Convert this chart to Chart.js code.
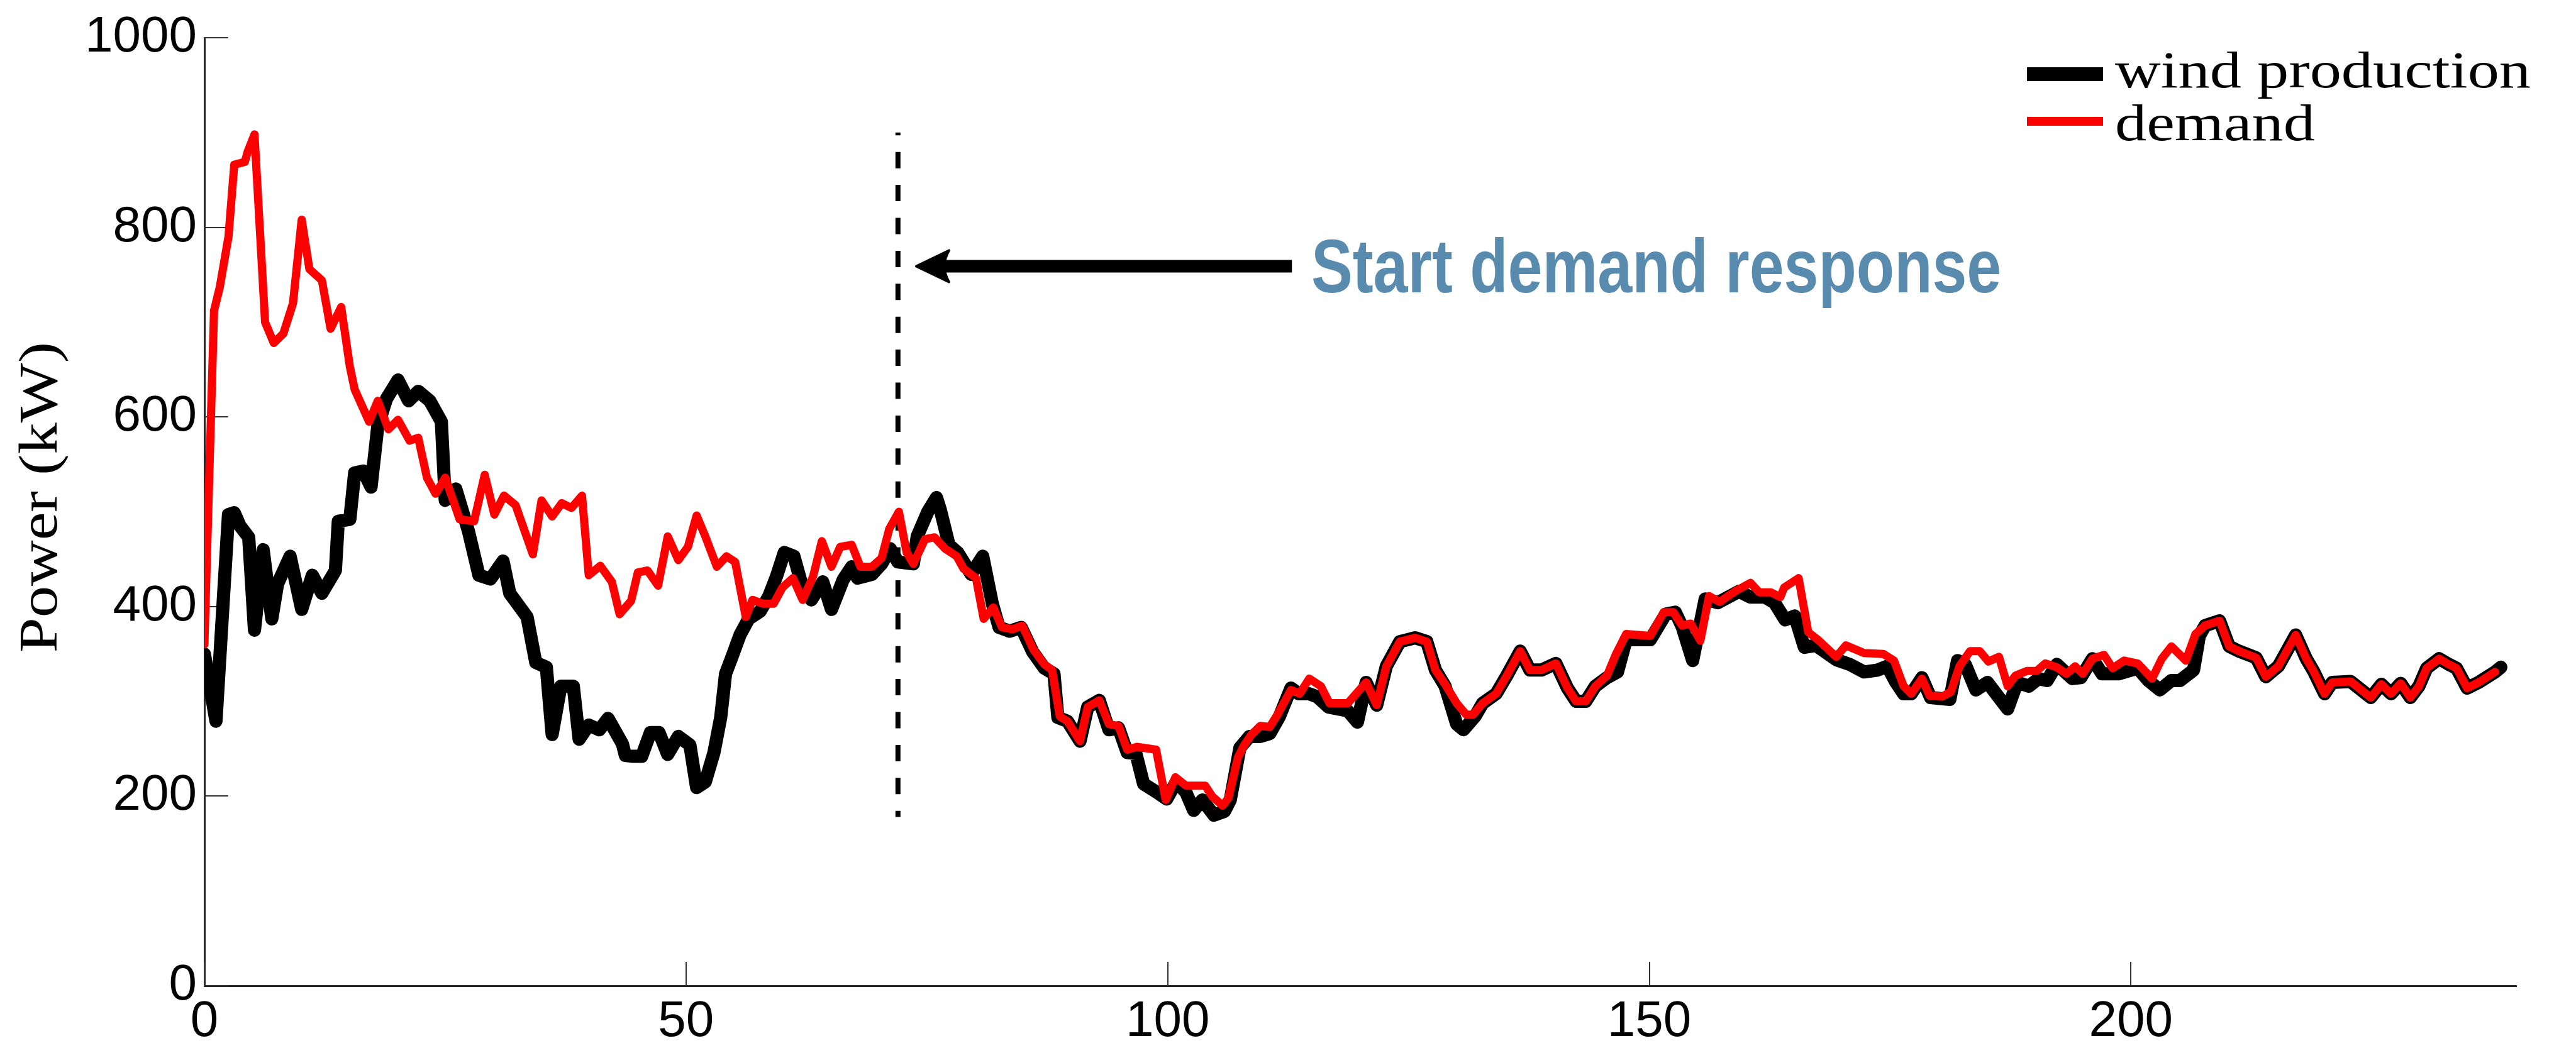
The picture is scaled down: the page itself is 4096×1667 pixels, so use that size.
<!DOCTYPE html>
<html>
<head>
<meta charset="utf-8">
<title>Wind production vs demand</title>
<script src="https://cdn.jsdelivr.net/npm/chart.js@4.4.1/dist/chart.umd.min.js"></script>
<style>
  html, body { margin: 0; padding: 0; background: #fff; }
  canvas { display: block; }
</style>
</head>
<body>
<canvas id="powerChart" width="4096" height="1667"></canvas>
<script>
// readings taken off the figure: time step and power (kW)
const demandX = [
  0, 1, 1.6, 2.5, 3.1, 4.2, 4.5, 5.2, 6.3, 7.2,
  8.2, 9.2, 10.1, 10.9, 12.2, 13.1, 14.2, 15.1, 15.6, 17.1,
  18, 19.1, 20.1, 21.3, 22.2, 23.1, 24, 25, 26.5, 28,
  29.1, 30.1, 31.1, 32.3, 34.1, 35, 36.1, 37.1, 38.1, 39.2,
  39.9, 41.1, 42.3, 43.1, 44.3, 45, 46, 47.1, 48.1, 49.2,
  50.2, 51.1, 52, 53.2, 54.2, 55.1, 56.2, 56.9, 58, 59.1,
  60, 61.1, 62.1, 63.2, 64.1, 65.1, 66, 67.2, 68.1, 69.3,
  70.3, 71.1, 72.1, 72.9, 73.6, 74.8, 75.8, 76.9, 78.1, 78.8,
  80.1, 80.9, 81.9, 82.8, 83.9, 84.9, 86.1, 87.2, 88, 88.8,
  89.6, 90.9, 91.7, 92.9, 93.9, 94.9, 95.8, 96.8, 98.8, 99.8,
  100.8, 101.9, 103.9, 104.6, 105.7, 106.3, 107.3, 107.9, 108.7, 109.6,
  110.6, 111.4, 112.8, 113.7, 114.7, 115.9, 116.8, 118.7, 120.6, 121.7,
  122.7, 124.1, 125.7, 126.9, 127.8, 128.8, 130, 131, 131.7, 132.7,
  134.1, 135.2, 136.6, 137.6, 138.8, 140.3, 141.5, 142.4, 143.4, 144.4,
  145.6, 146.5, 147.6, 150.1, 151.5, 152.5, 153.4, 154.3, 155.3, 156.2,
  157.3, 158.9, 160.5, 161.4, 162.6, 163.6, 164, 165.5, 166.5, 167.5,
  169.4, 170.4, 172.3, 174.3, 175.4, 176.4, 177.2, 178.3, 179.1, 180.4,
  181.3, 182.2, 183.3, 184.3, 185.2, 186.3, 187.2, 188, 189.2, 190.2,
  191.1, 192.3, 193.3, 194.2, 195, 196, 197.2, 198.1, 199.3, 200.7,
  202.2, 203.2, 204.2, 205.7, 206.7, 207.7, 209.2, 210.2, 211.2, 213,
  214, 215.3, 217.1, 218.2, 219, 220.1, 220.9, 222.8, 224.9, 226,
  227, 228, 229, 229.9, 230.7, 232, 233, 233.8, 234.9, 236.1,
  237.8
];
const demandKW = [
  360, 712, 737, 790, 866, 869, 880, 898, 700, 678,
  688, 720, 808, 756, 744, 693, 716, 653, 629, 595,
  617, 587, 597, 575, 578, 536, 519, 536, 492, 490,
  539, 497, 517, 507, 455, 512, 495, 509, 504, 517,
  433, 443, 426, 392, 406, 436, 438, 422, 474, 449,
  463, 496, 474, 442, 453, 447, 389, 407, 403, 403,
  420, 430, 407, 432, 469, 442, 463, 465, 442, 442,
  451, 482, 500, 457, 445, 471, 473, 461, 453, 440,
  430, 387, 399, 378, 376, 380, 354, 339, 333, 284,
  279, 258, 294, 301, 276, 274, 249, 252, 249, 196,
  220, 211, 211, 200, 190, 198, 241, 253, 265, 274,
  273, 286, 312, 308, 324, 316, 298, 298, 320, 296,
  337, 363, 367, 363, 333, 318, 298, 286, 286, 298,
  308, 327, 353, 333, 333, 340, 314, 300, 300, 316,
  327, 349, 371, 369, 394, 394, 380, 382, 364, 411,
  405, 416, 425, 415, 415, 410, 420, 430, 373, 365,
  347, 359, 351, 350, 343, 316, 308, 324, 306, 305,
  310, 337, 353, 353, 342, 347, 316, 327, 332, 332,
  340, 336, 329, 337, 329, 345, 349, 335, 343, 340,
  324, 345, 358, 343, 371, 380, 385, 358, 353, 346,
  326, 337, 370, 345, 331, 308, 320, 321, 304, 318,
  308, 319, 304, 316, 335, 345, 339, 335, 314, 320,
  331
];
const windX = [
  0, 1.2, 2.5, 3.1, 3.7, 4.6, 5.2, 6.1, 7, 7.6,
  8.9, 10.1, 11.2, 12.2, 13.6, 13.9, 15.1, 15.6, 16.5, 17.3,
  18, 18.9, 20.1, 21.2, 22.2, 23.4, 24.6, 25, 26.1, 27.4,
  28.5, 29.7, 31, 31.7, 33.5, 34.4, 35.5, 36.1, 37, 38.3,
  38.9, 39.9, 41, 41.9, 43.4, 43.7, 44.5, 45.4, 46.3, 47.2,
  48.1, 49.2, 50.4, 51.1, 52, 52.9, 53.6, 54.1, 54.7, 55.6,
  56.5, 57.7, 58.6, 59.4, 60.2, 61.2, 62.1, 63, 64.2, 65.1,
  66.3, 67.2, 67.8, 69.3, 70.3, 71.2, 72, 73.6, 74, 75.1,
  76, 76.4, 77.3, 78.2, 79.6, 80.8, 81.8, 82.5, 83.6, 84.8,
  86, 87.2, 88.2, 88.6, 89.6, 90.9, 91.7, 92.9, 93.9, 94.9,
  95.8, 96.7, 97.5, 98.9, 99.9, 100.9, 101.9, 102.7, 103.6, 104.8,
  105.9, 106.5, 107.5, 108.5, 109.6, 110.6, 111.6, 112.8, 113.6, 114.7,
  115.5, 116.7, 118.7, 119.7, 120.6, 121.7, 122.7, 124.1, 125.7, 126.9,
  127.8, 128.8, 130, 130.7, 131.9, 132.7, 134.1, 135.2, 136.6, 137.6,
  138.8, 140.3, 141.5, 142.4, 143.4, 144.4, 145.6, 146.7, 147.6, 150.1,
  151.7, 152.7, 153.4, 154.5, 155.8, 157.1, 159.3, 160.5, 162, 163,
  164.1, 165.1, 166.1, 167.3, 169.4, 170.8, 172.3, 173.7, 174.7, 175.6,
  176.4, 177.2, 178.3, 179.2, 181.2, 182, 182.8, 183.9, 185.1, 186.3,
  187.2, 188.2, 189.4, 190.4, 191.3, 192.3, 193.9, 194.8, 196, 197,
  198.7, 200.7, 201.8, 203, 204.2, 205.1, 206.5, 207.1, 207.7, 209.2,
  210.2, 211.2, 213, 214, 215.3, 217.1, 218.2, 219, 220.1, 220.9,
  222.8, 224.9, 226, 227, 228, 229, 229.9, 230.7, 232, 233,
  233.8, 234.9, 236.1, 237.8, 238.4
];
const windKW = [
  350, 279, 497, 499, 485, 473, 375, 460, 387, 424,
  453, 397, 433, 414, 438, 490, 492, 541, 543, 526,
  590, 619, 639, 617, 627, 617, 595, 512, 524, 480,
  433, 429, 448, 414, 389, 341, 336, 265, 316, 316,
  260, 275, 270, 282, 255, 243, 242, 242, 267, 267,
  244, 263, 254, 209, 215, 246, 283, 329, 345, 370,
  387, 395, 411, 432, 457, 453, 420, 407, 426, 397,
  428, 442, 430, 434, 445, 461, 447, 445, 474, 500,
  515, 502, 465, 457, 434, 453, 403, 378, 374, 378,
  352, 335, 329, 283, 279, 258, 294, 301, 270, 272,
  246, 245, 213, 204, 197, 215, 204, 185, 196, 180,
  184, 196, 251, 263, 263, 266, 284, 314, 308, 308,
  305, 294, 290, 278, 320, 296, 337, 363, 367, 363,
  333, 316, 276, 270, 284, 298, 308, 327, 353, 333,
  333, 340, 314, 300, 300, 316, 325, 331, 365, 365,
  392, 394, 379, 343, 408, 404, 416, 410, 410, 404,
  386, 390, 357, 359, 344, 339, 331, 333, 337, 320,
  308, 308, 325, 304, 302, 343, 339, 312, 320, 304,
  292, 320, 316, 324, 322, 339, 324, 325, 345, 329,
  329, 335, 322, 312, 322, 322, 333, 369, 380, 385,
  358, 353, 346, 326, 337, 370, 345, 331, 308, 320,
  321, 304, 318, 308, 319, 304, 316, 335, 345, 339,
  335, 314, 320, 331, 336
];
const xTickValues = [0, 50, 100, 150, 200];
const yTickValues = [0, 200, 400, 600, 800, 1000];

// annotation: demand response starts at step 72
const responseStep = 72;
const responseSpan = [900, 178];
const arrowTail = 112.9, arrowTip = 73.9, arrowLevel = 759;
const noteAt = [114.9, 731.7];
const noteText = 'Start demand response';

const toPoints = (xs, ys) => xs.map((x, i) => ({ x: x, y: ys[i] }));

// MATLAB style ticks pointing into the plot
const insideTicks = {
    id: 'insideTicks',
    beforeDatasetsDraw(chart) {
        const { ctx, chartArea, scales } = chart;
        ctx.save();
        ctx.strokeStyle = '#333';
        ctx.lineWidth = 2;
        ctx.beginPath();
        xTickValues.forEach(v => {
            const px = Math.round(scales.x.getPixelForValue(v));
            ctx.moveTo(px, chartArea.bottom);
            ctx.lineTo(px, chartArea.bottom - 38);
        });
        yTickValues.forEach(v => {
            const py = Math.round(scales.y.getPixelForValue(v));
            ctx.moveTo(chartArea.left, py);
            ctx.lineTo(chartArea.left + 38, py);
        });
        ctx.stroke();
        ctx.restore();
    }
};

// arrow + blue note
const responseNote = {
    id: 'responseNote',
    afterDatasetsDraw(chart) {
        const { ctx, scales } = chart;
        const y = scales.y.getPixelForValue(arrowLevel);
        const x0 = scales.x.getPixelForValue(arrowTail);
        const x1 = scales.x.getPixelForValue(arrowTip);
        const headLen = 52, headHalf = 25;
        ctx.save();
        ctx.strokeStyle = '#000';
        ctx.fillStyle = '#000';
        ctx.lineWidth = 20;
        ctx.beginPath();
        ctx.moveTo(x0, y);
        ctx.lineTo(x1 + headLen * 0.7, y);
        ctx.stroke();
        ctx.lineWidth = 4;
        ctx.lineJoin = 'round';
        ctx.beginPath();
        ctx.moveTo(x1, y);
        ctx.lineTo(x1 + headLen, y - headHalf);
        ctx.quadraticCurveTo(x1 + headLen * 0.72, y, x1 + headLen, y + headHalf);
        ctx.closePath();
        ctx.fill();
        ctx.stroke();

        ctx.translate(scales.x.getPixelForValue(noteAt[0]), scales.y.getPixelForValue(noteAt[1]));
        ctx.scale(0.816, 1);
        ctx.fillStyle = '#588BAD';
        ctx.font = "bold 121px 'Liberation Sans', Arial, sans-serif";
        ctx.textAlign = 'left';
        ctx.textBaseline = 'alphabetic';
        ctx.fillText(noteText, 0, 0);
        ctx.restore();
    }
};

// serif legend in the top right corner, and the y title
const serifText = {
    id: 'serifText',
    afterDraw(chart) {
        const { ctx } = chart;
        const sets = chart.data.datasets;
        ctx.save();
        ctx.textAlign = 'left';
        ctx.textBaseline = 'alphabetic';
        ctx.fillStyle = '#000';
        const rows = [
            { ds: sets[1], lineY: 118, thick: 22, base: 139 },
            { ds: sets[0], lineY: 193, thick: 14, base: 223 }
        ];
        rows.forEach(r => {
            ctx.strokeStyle = r.ds.borderColor;
            ctx.lineWidth = r.thick;
            ctx.lineCap = 'butt';
            ctx.beginPath();
            ctx.moveTo(3223, r.lineY);
            ctx.lineTo(3344, r.lineY);
            ctx.stroke();
            ctx.save();
            ctx.translate(3363, r.base);
            ctx.scale(1.21, 1);
            ctx.font = "83px 'Liberation Serif', 'Times New Roman', serif";
            ctx.fillText(r.ds.label, 0, 0);
            ctx.restore();
        });

        ctx.translate(90, 791);
        ctx.rotate(-Math.PI / 2);
        ctx.scale(1.17, 1);
        ctx.textAlign = 'center';
        ctx.font = "86px 'Liberation Serif', 'Times New Roman', serif";
        ctx.fillText('Power (kW)', 0, 0);
        ctx.restore();
    }
};

Chart.defaults.font.family = "'Liberation Sans', Arial, Helvetica, sans-serif";
Chart.defaults.color = '#000';

new Chart(document.getElementById('powerChart'), {
    type: 'line',
    data: {
        datasets: [
            {
                label: 'demand',
                data: toPoints(demandX, demandKW),
                borderColor: '#ff0000',
                borderWidth: 13,
                pointRadius: 0,
                tension: 0,
                borderJoinStyle: 'round',
                borderCapStyle: 'round',
                order: 0
            },
            {
                label: 'wind production',
                data: toPoints(windX, windKW),
                borderColor: '#000000',
                borderWidth: 21,
                pointRadius: 0,
                tension: 0,
                borderJoinStyle: 'round',
                borderCapStyle: 'round',
                order: 1
            },
            {
                label: 'start',
                data: responseSpan.map(v => ({ x: responseStep, y: v })),
                borderColor: '#000000',
                borderWidth: 8,
                borderDash: [26, 26.4],
                borderDashOffset: 21.5,
                pointRadius: 0,
                order: 2
            }
        ]
    },
    options: {
        responsive: false,
        animation: false,
        devicePixelRatio: 1,
        events: [],
        layout: { padding: { top: 50, right: 95, left: 0, bottom: 0 } },
        plugins: {
            legend: { display: false },
            tooltip: { enabled: false }
        },
        scales: {
            x: {
                type: 'linear',
                min: 0,
                max: 240,
                afterBuildTicks: s => { s.ticks = xTickValues.map(v => ({ value: v })); },
                afterFit: s => { s.height = 99; },
                grid: { display: false, drawTicks: false },
                border: { display: true, color: '#262626', width: 3 },
                ticks: { padding: 10, font: { size: 80 }, maxRotation: 0, callback: v => String(v) }
            },
            y: {
                min: 0,
                max: 1000,
                afterBuildTicks: s => { s.ticks = yTickValues.map(v => ({ value: v })); },
                afterFit: s => { s.width = 325; },
                grid: { display: false, drawTicks: false },
                border: { display: true, color: '#262626', width: 3 },
                ticks: { padding: 12, font: { size: 80 }, callback: v => String(v) }
            }
        }
    },
    plugins: [insideTicks, responseNote, serifText]
});
</script>
</body>
</html>
